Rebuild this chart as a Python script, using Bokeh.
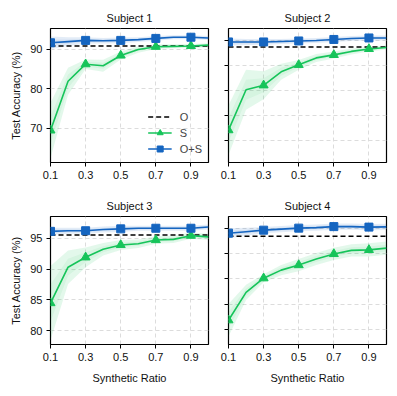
from bokeh.plotting import figure
from bokeh.layouts import column, row
from bokeh.models import (Range1d, FixedTicker, CustomJSTickFormatter, Legend,
                          LegendItem, ColumnDataSource)
from bokeh.embed import file_html
from bokeh.resources import INLINE

# ---------------- data ----------------
ratios = [0.1, 0.2, 0.3, 0.4, 0.5, 0.6, 0.7, 0.8, 0.9, 1.0]
marker_idx = [0, 2, 4, 6, 8]
x_ticks = [0.1, 0.3, 0.5, 0.7, 0.9]

titles = ["Subject 1", "Subject 2", "Subject 3", "Subject 4"]

s1_O = 90.8
s1_S = [69.5, 81.9, 86.2, 85.8, 88.4, 89.9, 90.6, 90.7, 90.8, 91.0]
s1_S_std = [7.0, 3.4, 1.2, 1.5, 1.0, 0.8, 0.6, 0.5, 0.5, 0.5]
s1_OS = [91.6, 91.9, 92.2, 92.1, 92.2, 92.4, 92.7, 93.0, 93.0, 92.8]
s1_OS_std = [1.6, 1.1, 0.8, 0.7, 0.7, 0.6, 0.6, 0.5, 0.5, 0.5]

s2_O = 93.7
s2_S = [77.0, 85.1, 86.0, 88.7, 90.1, 91.5, 92.1, 92.8, 93.3, 93.6]
s2_S_std = [5.0, 4.0, 2.8, 1.6, 1.0, 0.8, 0.7, 0.6, 0.5, 0.4]
s2_OS = [94.7, 94.7, 94.7, 94.8, 94.9, 95.0, 95.2, 95.4, 95.5, 95.5]
s2_OS_std = [0.7, 0.6, 0.6, 0.5, 0.5, 0.5, 0.5, 0.5, 0.5, 0.5]

s3_O = 95.5
s3_S = [84.5, 90.3, 91.9, 93.2, 93.9, 94.1, 94.7, 94.8, 95.4, 95.2]
s3_S_std = [6.0, 2.7, 1.6, 1.0, 0.8, 0.7, 0.6, 0.6, 0.5, 0.5]
s3_OS = [96.1, 96.2, 96.2, 96.4, 96.5, 96.6, 96.6, 96.6, 96.6, 96.8]
s3_OS_std = [0.6, 0.5, 0.5, 0.5, 0.5, 0.4, 0.4, 0.4, 0.4, 0.4]

s4_O = 93.4
s4_S = [76.8, 82.3, 85.1, 86.7, 87.7, 88.9, 89.9, 90.6, 90.7, 91.05]
s4_S_std = [3.2, 1.5, 0.8, 1.0, 1.2, 1.2, 1.2, 1.2, 1.3, 1.3]
s4_OS = [94.0, 94.3, 94.6, 94.8, 95.0, 95.1, 95.3, 95.3, 95.2, 95.25]
s4_OS_std = [1.0, 0.8, 0.6, 0.6, 0.6, 0.6, 0.6, 0.6, 0.6, 0.6]

y_ranges = [(61.4, 95.2), (70.5, 97.4), (77.8, 98.5), (72.0, 97.3)]
y_ticks = [[70, 80, 90], [75, 80, 85, 90, 95], [80, 85, 90, 95], [75, 80, 85, 90, 95]]

GREEN = "#16c45a"
BLUE = "#1565c0"
FONT = "Liberation Sans"
FS = "11px"


def make_panel(idx, O, S, S_std, OS, OS_std, show_ylabels, top_row, legend):
    left = 50 if show_ylabels else 16
    right = 4 if show_ylabels else 5
    top = 28 if top_row else 20
    bottom = 30 if top_row else 40
    p = figure(width=left + 158 + right, height=top + 134 + bottom,
               min_border_left=left, min_border_right=right,
               min_border_top=top, min_border_bottom=bottom,
               x_range=Range1d(0.1, 1.0), y_range=Range1d(*y_ranges[idx]),
               output_backend="svg", toolbar_location=None)
    p.title.text = titles[idx]
    p.title.align = "center"
    p.title.text_font = FONT
    p.title.text_font_size = FS
    p.title.text_font_style = "normal"
    p.title.text_color = "#111111"

    p.outline_line_color = "black"
    p.outline_line_width = 1.2
    p.outline_line_alpha = 1.0
    p.background_fill_color = "white"
    p.border_fill_color = "white"

    for ax in (p.xaxis[0], p.yaxis[0]):
        ax.axis_line_color = None
        ax.major_tick_out = 4
        ax.major_tick_in = 0
        ax.major_tick_line_color = "black"
        ax.major_tick_line_width = 1
        ax.minor_tick_line_color = None
        ax.major_label_text_font = FONT
        ax.major_label_text_font_size = FS
        ax.major_label_text_color = "#111111"
        ax.major_label_standoff = 4
        ax.axis_label_text_font = FONT
        ax.axis_label_text_font_size = FS
        ax.axis_label_text_font_style = "normal"
        ax.axis_label_text_color = "#111111"

    p.xaxis.ticker = FixedTicker(ticks=x_ticks)
    p.yaxis.ticker = FixedTicker(ticks=y_ticks[idx])
    if show_ylabels:
        p.yaxis.axis_label = "Test Accuracy (%)"
        p.yaxis.axis_label_standoff = 5
    else:
        p.yaxis.formatter = CustomJSTickFormatter(code="return ''")
    if not top_row:
        p.xaxis.axis_label = "Synthetic Ratio"
        p.xaxis.axis_label_standoff = 8

    for g in (p.xgrid[0], p.ygrid[0]):
        g.grid_line_color = "#dcdcdc"
        g.grid_line_dash = "4 3"
        g.grid_line_width = 1

    src = ColumnDataSource(dict(
        x=ratios,
        s_lo=[m - s for m, s in zip(S, S_std)],
        s_hi=[m + s for m, s in zip(S, S_std)],
        s_lo2=[m - 0.5 * s for m, s in zip(S, S_std)],
        s_hi2=[m + 0.5 * s for m, s in zip(S, S_std)],
        os_lo=[m - s for m, s in zip(OS, OS_std)],
        os_hi=[m + s for m, s in zip(OS, OS_std)],
        os_lo2=[m - 0.5 * s for m, s in zip(OS, OS_std)],
        os_hi2=[m + 0.5 * s for m, s in zip(OS, OS_std)],
    ))
    p.varea(x="x", y1="s_lo", y2="s_hi", source=src, fill_color=GREEN, fill_alpha=0.12)
    p.varea(x="x", y1="s_lo2", y2="s_hi2", source=src, fill_color=GREEN, fill_alpha=0.07)
    p.varea(x="x", y1="os_lo", y2="os_hi", source=src, fill_color=BLUE, fill_alpha=0.12)
    p.varea(x="x", y1="os_lo2", y2="os_hi2", source=src, fill_color=BLUE, fill_alpha=0.07)

    o_line = p.line([ratios[0], ratios[-1]], [O, O], line_color="black",
                    line_width=1.6, line_dash="5 3")
    s_line = p.line(ratios, S, line_color=GREEN, line_width=1.6)
    s_mk = p.scatter([ratios[i] for i in marker_idx], [S[i] for i in marker_idx],
                     marker="triangle", size=9, fill_color=GREEN, line_color=GREEN)
    os_line = p.line(ratios, OS, line_color=BLUE, line_width=1.6)
    os_mk = p.scatter([ratios[i] for i in marker_idx], [OS[i] for i in marker_idx],
                      marker="square", size=8, fill_color=BLUE, line_color=BLUE)

    if legend:
        lg = Legend(items=[LegendItem(label="O", renderers=[o_line]),
                           LegendItem(label="S", renderers=[s_line, s_mk]),
                           LegendItem(label="O+S", renderers=[os_line, os_mk])],
                    location="bottom_right", border_line_color=None,
                    background_fill_alpha=0.0, label_text_font=FONT,
                    label_text_font_size=FS, glyph_width=24, glyph_height=15,
                    label_height=15, spacing=1, label_standoff=8, padding=2,
                    margin=6)
        p.add_layout(lg, "center")
    return p


p1 = make_panel(0, s1_O, s1_S, s1_S_std, s1_OS, s1_OS_std, True, True, True)
p2 = make_panel(1, s2_O, s2_S, s2_S_std, s2_OS, s2_OS_std, False, True, False)
p3 = make_panel(2, s3_O, s3_S, s3_S_std, s3_OS, s3_OS_std, True, False, False)
p4 = make_panel(3, s4_O, s4_S, s4_S_std, s4_OS, s4_OS_std, False, False, False)

layout = column(row(p1, p2), row(p3, p4))
open("out.html", "w").write(file_html(layout, INLINE))
